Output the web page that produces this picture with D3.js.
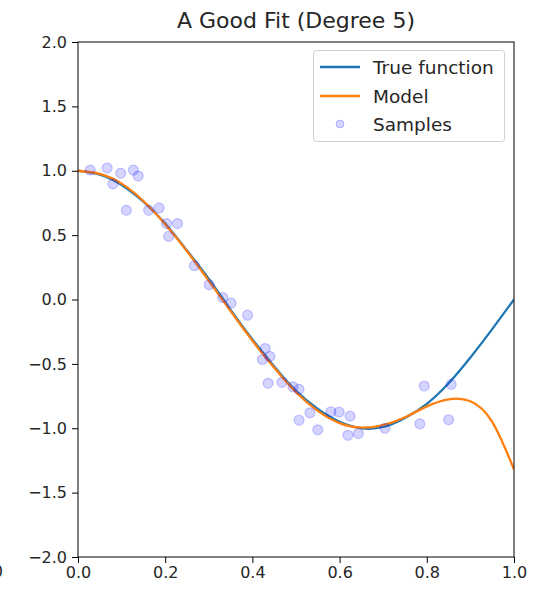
<!DOCTYPE html>
<html>
<head>
<meta charset="utf-8">
<script src="https://cdn.jsdelivr.net/npm/d3@7"></script>
<style>
  html, body { margin: 0; padding: 0; background: #fff; }
  svg { display: block; font-family: "DejaVu Sans", sans-serif; }
</style>
</head>
<body>
<svg id="chart" width="535" height="589"></svg>
<script>
// ---- data ----
const curveX = [0, 0.05, 0.1, 0.15, 0.2, 0.25, 0.3, 0.35, 0.4, 0.45, 0.5,
                0.55, 0.6, 0.65, 0.7, 0.75, 0.8, 0.85, 0.9, 0.95, 1.0];
const trueFunction = [1.00, 0.97, 0.89, 0.76, 0.59, 0.38, 0.16, -0.08, -0.31, -0.52, -0.71,
                      -0.85, -0.95, -1.00, -0.99, -0.92, -0.81, -0.65, -0.45, -0.23, 0.00];
const modelValues = [1.00, 0.975, 0.90, 0.765, 0.585, 0.375, 0.145, -0.09, -0.32, -0.53, -0.72,
                     -0.865, -0.96, -0.995, -0.975, -0.915, -0.83, -0.775, -0.79, -0.95, -1.32];
const sampleX = [0.028, 0.067, 0.080, 0.098, 0.111, 0.127, 0.138, 0.162, 0.186, 0.203,
                 0.228, 0.208, 0.267, 0.301, 0.332, 0.351, 0.389, 0.429, 0.440, 0.423,
                 0.436, 0.468, 0.493, 0.507, 0.507, 0.532, 0.550, 0.580, 0.599, 0.624,
                 0.619, 0.643, 0.704, 0.784, 0.794, 0.856, 0.850];
const sampleY = [1.005, 1.021, 0.898, 0.980, 0.693, 1.005, 0.959, 0.693, 0.711, 0.590,
                 0.590, 0.490, 0.263, 0.115, 0.016, -0.028, -0.122, -0.381, -0.442, -0.466,
                 -0.651, -0.643, -0.678, -0.698, -0.938, -0.880, -1.012, -0.872, -0.875, -0.906,
                 -1.055, -1.041, -1.000, -0.966, -0.672, -0.659, -0.934];
const xTicks = [0, 0.2, 0.4, 0.6, 0.8, 1.0];
const yTicks = [-2.0, -1.5, -1.0, -0.5, 0.0, 0.5, 1.0, 1.5, 2.0];
const legendLabels = ["True function", "Model", "Samples"];
const titleText = "A Good Fit (Degree 5)";

// ---- layout ----
const pLeft = 78, pRight = 514, pTop = 42, pBottom = 557;
const svg = d3.select("#chart");
const x = d3.scaleLinear().domain([0, 1]).range([pLeft, pRight]);
const y = d3.scaleLinear().domain([-2, 2]).range([pBottom, pTop]);
const blue = "#1f77b4", orange = "#ff7f0e", textColor = "#262626";

svg.append("defs").append("clipPath").attr("id", "clip")
  .append("rect").attr("x", pLeft).attr("y", pTop).attr("width", pRight - pLeft).attr("height", pBottom - pTop);

// partial label from a neighbouring panel, cut at the left edge (as in the reference)
svg.append("text").attr("x", 3).attr("y", 577).attr("text-anchor", "end")
  .attr("font-size", 16).attr("fill", textColor).text("1.0");

const plot = svg.append("g").attr("clip-path", "url(#clip)");

const line = d3.line().x(d => x(d[0])).y(d => y(d[1])).curve(d3.curveNatural);
plot.append("path").datum(curveX.map((v, i) => [v, trueFunction[i]]))
  .attr("d", line).attr("fill", "none").attr("stroke", blue).attr("stroke-width", 2.3);
plot.append("path").datum(curveX.map((v, i) => [v, modelValues[i]]))
  .attr("d", line).attr("fill", "none").attr("stroke", orange).attr("stroke-width", 2.3);

plot.selectAll("circle.s").data(sampleX.map((v, i) => [v, sampleY[i]])).enter()
  .append("circle").attr("class", "s")
  .attr("cx", d => x(d[0])).attr("cy", d => y(d[1])).attr("r", 5)
  .attr("fill", "rgba(0,0,255,0.17)").attr("stroke", "rgba(0,0,255,0.2)").attr("stroke-width", 1.2);

// axes
const xAxis = d3.axisBottom(x).tickValues(xTicks).tickFormat(d3.format(".1f")).tickSize(6).tickPadding(4);
const yAxis = d3.axisLeft(y).tickValues(yTicks).tickFormat(d => d3.format(".1f")(d).replace("-", "\u2212")).tickSize(6).tickPadding(5);

const gx = svg.append("g").attr("transform", `translate(0,${pBottom})`).call(xAxis);
const gy = svg.append("g").attr("transform", `translate(${pLeft},0)`).call(yAxis);
[gx, gy].forEach(g => {
  g.select(".domain").remove();
  g.selectAll(".tick line").attr("stroke", "#000").attr("stroke-width", 1);
  g.selectAll(".tick text").attr("font-size", 16).attr("fill", textColor)
    .attr("font-family", "DejaVu Sans, sans-serif");
});

// frame
svg.append("rect").attr("x", pLeft).attr("y", pTop).attr("width", pRight - pLeft).attr("height", pBottom - pTop)
  .attr("fill", "none").attr("stroke", "#000").attr("stroke-width", 1);

// title
svg.append("text").attr("x", (pLeft + pRight) / 2).attr("y", 28).attr("text-anchor", "middle")
  .attr("font-size", 22).attr("fill", textColor).text(titleText);

// legend
const lg = svg.append("g");
lg.append("rect").attr("x", 313.5).attr("y", 50.5).attr("width", 191).attr("height", 91).attr("rx", 3)
  .attr("fill", "rgba(255,255,255,0.8)").attr("stroke", "#d0d0d0");
const rowY = [67, 96, 124];
lg.append("line").attr("x1", 320).attr("x2", 360).attr("y1", rowY[0]).attr("y2", rowY[0])
  .attr("stroke", blue).attr("stroke-width", 2.3);
lg.append("line").attr("x1", 320).attr("x2", 360).attr("y1", rowY[1]).attr("y2", rowY[1])
  .attr("stroke", orange).attr("stroke-width", 2.3);
lg.append("circle").attr("cx", 340).attr("cy", rowY[2]).attr("r", 4)
  .attr("fill", "rgba(0,0,255,0.17)").attr("stroke", "rgba(0,0,255,0.2)");
legendLabels.forEach((t, i) => {
  lg.append("text").attr("x", 373).attr("y", rowY[i] + 7).attr("font-size", 18.5)
    .attr("fill", textColor).text(t);
});
</script>
</body>
</html>
